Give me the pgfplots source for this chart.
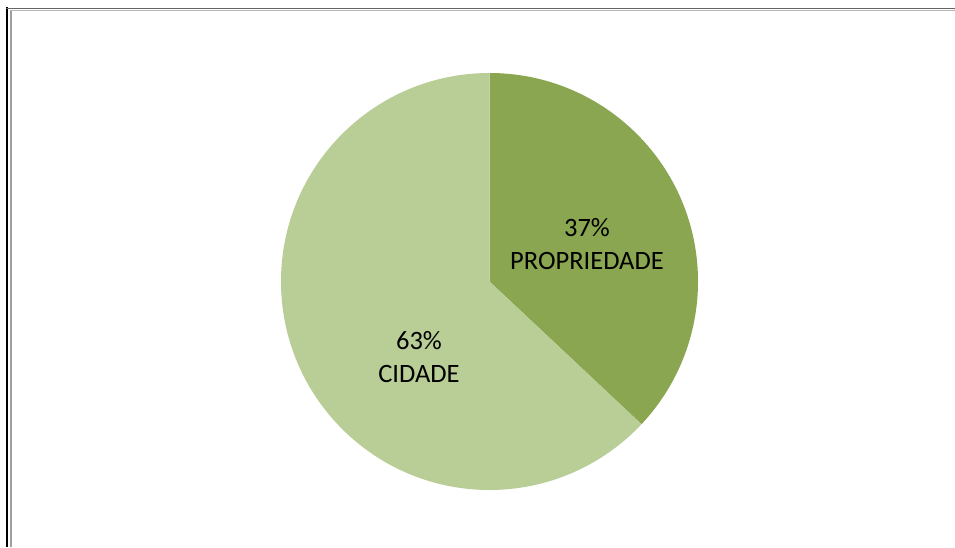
\documentclass[border=0pt]{standalone}
\usepackage{fontspec}
\setmainfont{Carlito}
\usepackage{pgfplots}
\usepackage{pgfplotstable}
\pgfplotsset{compat=1.18}
\definecolor{darkg}{HTML}{8BA650}
\definecolor{lightg}{HTML}{B9CD96}
\pgfplotstableread{
label value
PROPRIEDADE 37
CIDADE 63
}\piedata
\begin{document}
\begin{tikzpicture}
\begin{axis}[
  width=955pt, height=547pt, scale only axis,
  xmin=0, xmax=955, ymin=0, ymax=547,
  hide axis, clip=false,
]
\pgfplotstablegetelem{0}{value}\of\piedata
\pgfmathsetmacro\va{\pgfplotsretval}
\pgfmathsetmacro\ea{90-3.6*\va}
\coordinate (ll) at (axis cs:0,0);
\coordinate (ur) at (axis cs:955,547);
% sectors
\fill[darkg] (axis cs:489.5,265.5) -- (axis cs:489.5,474) arc[start angle=90, end angle=\ea, radius=208.5pt] -- cycle;
\fill[lightg] (axis cs:489.5,265.5) -- (axis cs:489.5,474) arc[start angle=90, end angle=\ea+360, radius=208.5pt] -- cycle;
% borders
\draw[black, line width=2pt] (axis cs:7,539.5) -- (axis cs:7,0);
\draw[gray!75, line width=1.8pt] (axis cs:11.3,537) -- (axis cs:11.3,0);
\draw[black!60, line width=1.8pt] (axis cs:6,538.5) -- (axis cs:955,538.5);
\draw[gray!55, line width=1.2pt] (axis cs:11,536.6) -- (axis cs:955,536.6);
% labels
\node[align=center, font=\fontsize{26.5}{33}\selectfont, inner sep=0pt] at (axis cs:587,303) {37\%\\PROPRIEDADE};
\node[align=center, font=\fontsize{26.5}{33}\selectfont, inner sep=0pt] at (axis cs:419,190) {63\%\\CIDADE};
\end{axis}
\pgfresetboundingbox
\path[use as bounding box] (ll) rectangle (ur);
\end{tikzpicture}
\end{document}
